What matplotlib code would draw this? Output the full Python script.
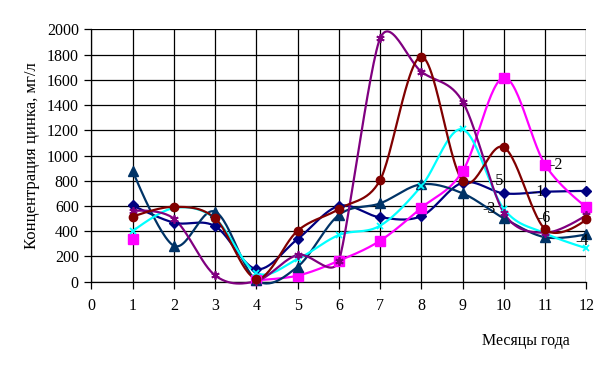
import numpy as np
import matplotlib
matplotlib.use("Agg")
import matplotlib.pyplot as plt

months = [1, 2, 3, 4, 5, 6, 7, 8, 9, 10, 11, 12]
s1 = [605, 468, 440, 100, 338, 600, 510, 520, 785, 700, 713, 720]
s2 = [336, np.nan, np.nan, 12, 48, 166, 325, 586, 877, 1617, 925, 590]
s3 = [880, 285, 555, 12, 119, 529, 621, 772, 700, 502, 352, 375]
s4 = [400, 584, 500, 70, 180, 370, 444, 758, 1207, 575, 383, 265]
s5 = [560, 500, 50, 5, 212, 166, 1929, 1664, 1426, 544, 388, 528]
s6 = [515, 594, 502, 25, 404, 576, 806, 1783, 800, 1065, 415, 494]

series = [s1, s2, s3, s4, s5, s6]
colors = ["#000080", "#FF00FF", "#003366", "#00FFFF", "#800080", "#800000"]
markers = ["D", "s", "^", "x", (6, 2, 0), "o"]
msizes = [5.5, 6.5, 6.5, 5, 6, 6]

# curve labels: text, month of anchor point, offset in points
lab_text = ["-1", "-2", "-3", "-4", "-5", "-6"]
lab_anchor = [11, 11, 10, 12, 10, 11]
lab_offset = [(-5, 0), (8, 0), (-11, 7), (-3, 5), (-5, 23), (-1, 8)]

yticks = list(range(0, 2001, 200))
xticks = list(range(0, 13))

plt.rcParams['font.family'] = ['Liberation Serif', 'DejaVu Serif']


def smooth_display(pts, n=30):
    """Excel-like bezier smoothing in display space."""
    p = np.asarray(pts, float)
    m = len(p)
    out = []

    def ctrl(a, b, c):
        d01 = np.hypot(*(b - a))
        d12 = np.hypot(*(c - b))
        d02 = np.hypot(*(c - a))
        f = 1.0 / 6.0
        if d02 > 0:
            lim = min(d01, d12) / 2.0
            if d02 * f > lim:
                f = lim / d02
        else:
            f = 0
        return (c - a) * f

    for i in range(m - 1):
        p0 = p[i - 1] if i > 0 else p[i]
        p1 = p[i]
        p2 = p[i + 1]
        p3 = p[i + 2] if i + 2 < m else p[i + 1]
        c1 = p1 + ctrl(p0, p1, p2)
        c2 = p2 - ctrl(p1, p2, p3)
        t = np.linspace(0, 1, n)[:, None]
        b = ((1 - t) ** 3) * p1 + 3 * ((1 - t) ** 2) * t * c1 + 3 * (1 - t) * t ** 2 * c2 + t ** 3 * p2
        out.append(b)
    return np.vstack(out)


def segments(x, y):
    segs, cur = [], []
    for xi, yi in zip(x, y):
        if np.isnan(yi):
            if cur:
                segs.append(cur)
            cur = []
        else:
            cur.append((xi, yi))
    if cur:
        segs.append(cur)
    return [s for s in segs if len(s) > 1]


fig = plt.figure(figsize=(6.12, 3.66), dpi=100)
ax = fig.add_axes([0.1492, 0.2303, 0.9583 - 0.1492, 0.9199 - 0.2303])

ax.set_xlim(0, 12)
ax.set_ylim(0, 2000)
ax.set_xticks(xticks)
ax.set_yticks(yticks)
ax.grid(True, color="black", linewidth=0.9)
ax.set_axisbelow(True)
for sp in ["top", "right"]:
    ax.spines[sp].set_visible(False)
for sp in ["left", "bottom"]:
    ax.spines[sp].set_linewidth(0.9)
ax.tick_params(axis="both", direction="out", length=5, width=0.9, labelsize=11.5, pad=4)
ax.tick_params(axis="x", pad=7)

trans = ax.transData
inv = trans.inverted()
for ys, c, mk, ms in zip(series, colors, markers, msizes):
    for seg in segments(months, [float(v) for v in ys]):
        disp = trans.transform(np.array(seg, float))
        curve = inv.transform(smooth_display(disp))
        ax.plot(curve[:, 0], curve[:, 1], color=c, lw=1.6, clip_on=False, zorder=3)
    mew = 1.3 if (mk == "x" or isinstance(mk, tuple)) else 1
    ax.plot(months, ys, linestyle="none", marker=mk, color=c, ms=ms, mew=mew,
            clip_on=False, zorder=4)

for t, ai, off, ys in zip(lab_text, lab_anchor, lab_offset, series):
    ax.annotate(t, xy=(ai, ys[ai - 1]), xytext=off, textcoords="offset points",
                ha="center", va="center", fontsize=11.5, color="black", zorder=5)

ax.set_ylabel("Концентрация цинка, мг/л", fontsize=12, labelpad=5)
fig.text(526 / 612, 1 - 341 / 366, "Месяцы года", ha="center", va="center", fontsize=11.5)

fig.savefig("out.png", dpi=100)
